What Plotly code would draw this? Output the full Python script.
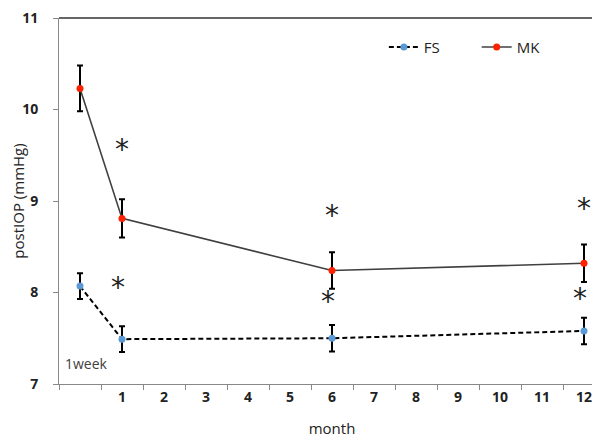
import plotly.graph_objects as go

categories = [" ", "1", "2", "3", "4", "5", "6", "7", "8", "9", "10", "11", "12"]
time_points = [" ", "1", "6", "12"]

fs_mean = [8.07, 7.49, 7.50, 7.58]
fs_err = [0.14, 0.14, 0.145, 0.145]
mk_mean = [10.23, 8.81, 8.24, 8.32]
mk_err = [0.25, 0.21, 0.20, 0.205]

# asterisk positions (y in mmHg)
fs_star = [8.02, 7.87, 7.90]
mk_star = [9.53, 8.81, 8.88]
star_x = ["1", "6", "12"]

fig = go.Figure()
fig.add_trace(go.Scatter(
    x=time_points, y=fs_mean, name="FS", mode="lines+markers",
    line=dict(color="black", width=2, dash="5px,3px"),
    marker=dict(color="#5B9BD5", size=7),
    error_y=dict(type="data", array=fs_err, color="black", thickness=2, width=3),
    legend="legend",
))
fig.add_trace(go.Scatter(
    x=time_points, y=mk_mean, name="MK", mode="lines+markers",
    line=dict(color="#404040", width=1.6),
    marker=dict(color="#FF2000", size=7),
    error_y=dict(type="data", array=mk_err, color="black", thickness=2, width=3),
    legend="legend2",
))

annotations = []
for xs, ys, dx in ((star_x, mk_star, 0), (star_x, fs_star, -4)):
    for x, y in zip(xs, ys):
        annotations.append(dict(x=x, y=y, xref="x", yref="y", text="*", showarrow=False,
                                font=dict(size=28, color="#222", family="DejaVu Sans"),
                                xshift=dx, yshift=3))
annotations.append(dict(x=0, y=7, xref="paper", yref="y", text="1week", showarrow=False,
                        xanchor="left", yanchor="bottom", xshift=4, yshift=9,
                        font=dict(size=14, color="#404040", family="Open Sans")))

leg_common = dict(orientation="h", y=0.92, xanchor="left", yanchor="middle",
                  font=dict(size=15, family="Open Sans", color="#222"), itemwidth=30,
                  bgcolor="rgba(0,0,0,0)")

fig.update_layout(
    width=600, height=440,
    margin=dict(l=51, r=3, t=10, b=64),
    paper_bgcolor="white", plot_bgcolor="white",
    font=dict(family="Open Sans", color="#222"),
    showlegend=True,
    legend=dict(x=0.595, **leg_common),
    legend2=dict(x=0.765, **leg_common),
    annotations=annotations,
    xaxis=dict(type="category", categoryorder="array", categoryarray=categories,
               range=[-0.5, 12.5], tickson="boundaries", ticks="outside", ticklen=5,
               tickcolor="#888", showline=True, linecolor="#888", linewidth=1,
               showgrid=False, zeroline=False, automargin=False,
               tickfont=dict(size=14, family="Open Sans", color="#222", weight="bold"),
               title=dict(text="month", font=dict(size=15, family="Open Sans", color="#222"), standoff=18)),
    yaxis=dict(range=[7, 11], tickvals=[7, 8, 9, 10, 11], ticks="outside", ticklen=5,
               tickcolor="#888", showline=True, linecolor="#888", linewidth=1,
               showgrid=False, zeroline=False, automargin=False,
               ticklabeloverflow="allow", ticklabelstandoff=12,
               tickfont=dict(size=14, family="Open Sans", color="#222", weight="bold"),
               title=dict(text="postIOP (mmHg)", font=dict(size=15, family="Open Sans", color="#222"), standoff=2)),
    shapes=[dict(type="line", xref="paper", yref="paper", x0=0, x1=1, y0=1, y1=1,
                 line=dict(color="#333", width=1.5)),
            dict(type="line", xref="paper", yref="paper", x0=1, x1=1, y0=0, y1=1,
                 line=dict(color="#333", width=1.5))],
)

fig.write_html("out.html")
